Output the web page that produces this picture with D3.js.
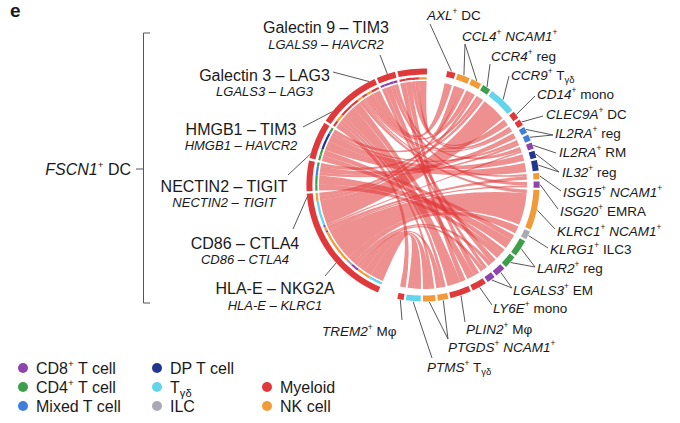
<!DOCTYPE html>
<html><head><meta charset="utf-8">
<script src="https://cdn.jsdelivr.net/npm/d3@7"></script>
<style>
body{margin:0;background:#fff}
svg{display:block;font-family:"Liberation Sans",Arial,sans-serif}
text{white-space:pre;fill:#1a1a1a}
</style>
</head><body>
<svg id="c" width="680" height="423"></svg>
<script>
// ---------- DATA ----------
const cellTypes  = ["CD8+ T cell","CD4+ T cell","Mixed T cell","DP T cell","Tγδ","ILC","Myeloid","NK cell"];
const cellColors = ["#8e44ad","#3c9f4a","#3d7fdb","#20368f","#62d4ec","#a9a9b3","#e0393b","#f39a38"];

// ligand–receptor pairs of FSCN1+ DC (top to bottom)
const pairNames = ["Galectin 9 – TIM3","Galectin 3 – LAG3","HMGB1 – TIM3","NECTIN2 – TIGIT","CD86 – CTLA4","HLA-E – NKG2A"];
const pairGenes = ["LGALS9 – HAVCR2","LGALS3 – LAG3","HMGB1 – HAVCR2","NECTIN2 – TIGIT","CD86 – CTLA4","HLA-E – KLRC1"];

// receiving clusters, clockwise from top
const targetNames = ["AXL+ DC","CCL4+ NCAM1+","CCL4+ NCAM1+","CCR4+ reg","CCR9+ Tγδ","CD14+ mono","CLEC9A+ DC",
  "IL2RA+ reg","IL2RA+ reg","IL2RA+ RM","IL32+ reg","IL32+ reg","ISG15+ NCAM1+","ISG20+ EMRA","KLRC1+ NCAM1+",
  "KLRG1+ ILC3","LAIR2+ reg","LAIR2+ reg","LGALS3+ EM","LGALS3+ EM","LY6E+ mono","PLIN2+ Mφ",
  "PTGDS+ NCAM1+","PTGDS+ NCAM1+","PTMS+ Tγδ","TREM2+ Mφ"];
const targetType = [6,7,7,1,4,6,6,2,2,0,3,3,7,0,7,5,1,1,0,0,6,6,7,7,4,6];

// links: [pair index, target index, interaction weight]
const links = [
  [0,1,4],[0,5,2],[0,6,2],[0,20,3],[0,21,3],
  [1,9,2],[1,13,2],[1,18,3],[1,19,2],
  [2,0,4],[2,2,3],[2,5,1.5],[2,6,1],[2,12,1],[2,14,2],[2,20,4],[2,21,7],[2,22,2],[2,23,2],[2,25,3],
  [3,3,2],[3,8,1.5],[3,10,3.5],[3,11,5],[3,16,3],[3,17,3],
  [4,3,2],[4,7,3],[4,8,1.5],[4,16,5],[4,17,3],
  [5,1,2],[5,2,2],[5,4,13],[5,9,1],[5,12,2],[5,13,1],[5,14,17],[5,15,4],[5,18,2],[5,19,2],[5,22,3],[5,23,4],[5,24,7]
];

// ---------- LAYOUT ----------
const svg = d3.select("#c");
const cx = 423, cy = 185;
const rChord = 104, rIn0 = 105.6, rIn1 = 107.8, rOut0 = 110.6, rOut1 = 116.6;
const deg = Math.PI / 180;
const startA = 12, endA = 362, bigGap = 10, gR = 1.1, gL = 1.2;
const leftOrder = [5,4,3,2,1,0];

const rightTot = targetNames.map((_, i) => d3.sum(links.filter(l => l[1] === i), l => l[2]));
const leftTot = pairNames.map((_, i) => d3.sum(links.filter(l => l[0] === i), l => l[2]));
const total = d3.sum(rightTot);
const k = (endA - startA - bigGap - (targetNames.length - 1) * gR - (pairNames.length - 1) * gL) / (2 * total);

let a = startA;
const rightSeg = rightTot.map(v => { const s = a, e = a + v * k; a = e + gR; return {s, e}; });
a = a - gR + bigGap;
const leftSeg = [];
leftOrder.forEach(p => { const s = a, e = a + leftTot[p] * k; leftSeg[p] = {s, e}; a = e + gL; });

const mid = g => (g.s + g.e) / 2;
const L = links.map(([p, t, v]) => ({p, t, v}));
pairNames.forEach((_, p) => {
  let x = leftSeg[p].s;
  L.filter(l => l.p === p).sort((m, n) => mid(rightSeg[n.t]) - mid(rightSeg[m.t]))
   .forEach(l => { l.s0 = x; x += l.v * k; l.s1 = x; });
});
targetNames.forEach((_, t) => {
  let x = rightSeg[t].s;
  L.filter(l => l.t === t).sort((m, n) => mid(leftSeg[n.p]) - mid(leftSeg[m.p]))
   .forEach(l => { l.t0 = x; x += l.v * k; l.t1 = x; });
});

const g = svg.append("g").attr("transform", `translate(${cx},${cy})`);
const ribbon = d3.ribbon().radius(rChord);
g.append("g").selectAll("path").data(L).join("path")
  .attr("d", l => ribbon({source: {startAngle: l.s0 * deg, endAngle: l.s1 * deg},
                          target: {startAngle: l.t0 * deg, endAngle: l.t1 * deg}}))
  .attr("fill", "#e03535").attr("fill-opacity", 0.55);

const arc = d3.arc();
g.append("g").selectAll("path").data(L).join("path")
  .attr("d", l => arc({innerRadius: rIn0, outerRadius: rIn1, startAngle: l.s0 * deg, endAngle: l.s1 * deg}))
  .attr("fill", l => cellColors[targetType[l.t]]);
g.append("g").selectAll("path").data(leftSeg).join("path")
  .attr("d", d => arc({innerRadius: rOut0, outerRadius: rOut1, startAngle: d.s * deg, endAngle: d.e * deg}))
  .attr("fill", cellColors[6]);
g.append("g").selectAll("path").data(rightSeg).join("path")
  .attr("d", d => arc({innerRadius: rOut0, outerRadius: rOut1, startAngle: d.s * deg, endAngle: d.e * deg}))
  .attr("fill", (d, i) => cellColors[targetType[i]]);

// ---------- TEXT ----------
function rich(sel, str, fs, geneItalic = true) {
  let shift = 0;
  function add(t, italic, mode) {
    const ts = sel.append("tspan").text(t);
    let target = 0, size = fs;
    if (mode === "sup") { size = fs * 0.62; target = -fs * 0.42; }
    if (mode === "sub") { size = fs * 0.7; target = fs * 0.25; }
    if (size !== fs) ts.attr("font-size", size);
    if (italic) ts.attr("font-style", "italic");
    if (target !== shift) { ts.attr("dy", target - shift); shift = target; }
  }
  str.split(" ").forEach((tok, i) => {
    const sp = i > 0 ? " " : "";
    if (tok.endsWith("+")) { add(sp + tok.slice(0, -1), geneItalic); add("+", false, "sup"); }
    else if (tok === "Tγδ") { add(sp + "T"); add("γδ", false, "sub"); }
    else add(sp + tok);
  });
}
const polar = (ang, r) => [cx + r * Math.sin(ang * deg), cy - r * Math.cos(ang * deg)];

// right labels: [text x, baseline, line start x, line start y]
const rightLabelPos = [
  [427,20,430,24],[462,41,465,44],[491,61,490,64],[511,80,509,76],[537,99,535,96],[546,119,543,116],
  [555,138,553,135],[559,157,556,153],[562,177,559,172],[563,197,561,191],[560,216,558,209],
  [557,236,555,229],[550,254,548,248],[537,273,535,267],[513,295,512,288],[493,313,492,305],
  [466,334,465,322],[448,352,448,339],[427,372,432,358],[322,336,402,320]
];
const uniq = [];
targetNames.forEach((n, i) => {
  if (uniq.length && uniq[uniq.length - 1].name === n) uniq[uniq.length - 1].segs.push(i);
  else uniq.push({name: n, segs: [i]});
});
const lab = svg.append("g");
uniq.forEach((u, j) => {
  const [tx, ty, lx, ly] = rightLabelPos[j];
  u.segs.forEach(si => {
    const [ex, ey] = polar(mid(rightSeg[si]), rOut1 + 0.5);
    lab.append("line").attr("x1", lx).attr("y1", ly).attr("x2", ex).attr("y2", ey)
      .attr("stroke", "#444").attr("stroke-width", 0.9);
  });
  rich(lab.append("text").attr("x", tx).attr("y", ty).attr("font-size", 13.5), u.name, 13.5);
});

// left labels: [centre x, main baseline, sub baseline, line start x, line start y, ring angle]
const leftLabelPos = [
  [326,33,49,380,55,342.2],[264.5,81,96,333,72,332.5],[241,135,150,303,127,309],
  [224,192,207,288,175,285.5],[245,249,264,293,229,264],[275,294,310,325,276,228.1]
];
pairNames.forEach((n, i) => {
  const [tx, y1, y2, lx, ly, ang] = leftLabelPos[i];
  const [ex, ey] = polar(ang, rOut1);
  lab.append("line").attr("x1", lx).attr("y1", ly).attr("x2", ex).attr("y2", ey)
    .attr("stroke", "#444").attr("stroke-width", 0.9);
  lab.append("text").attr("x", tx).attr("y", y1).attr("text-anchor", "middle")
    .attr("font-size", 16).text(n);
  lab.append("text").attr("x", tx).attr("y", y2).attr("text-anchor", "middle")
    .attr("font-size", 13).attr("font-style", "italic").text(pairGenes[i]);
});

// bracket + FSCN1+ DC
svg.append("path").attr("d", "M150,33H143.5V303H150M143.5,169H136")
  .attr("fill", "none").attr("stroke", "#555").attr("stroke-width", 1);
rich(svg.append("text").attr("x", 131).attr("y", 175).attr("text-anchor", "end").attr("font-size", 16), "FSCN1+ DC", 16);

// panel letter
svg.append("text").attr("x", 10).attr("y", 17).attr("font-size", 19).attr("font-weight", "bold").text("e");

// legend
const legendPos = [[23,0],[23,1],[23,2],[157,0],[157,1],[157,2],[267,1],[267,2]];
const rowY = [368, 387, 406];
cellTypes.forEach((n, i) => {
  const [x, r] = legendPos[i];
  svg.append("circle").attr("cx", x).attr("cy", rowY[r]).attr("r", 5).attr("fill", cellColors[i]);
  rich(svg.append("text").attr("x", x + 13).attr("y", rowY[r] + 5.5).attr("font-size", 16), n, 16, false);
});
</script>
</body></html>
